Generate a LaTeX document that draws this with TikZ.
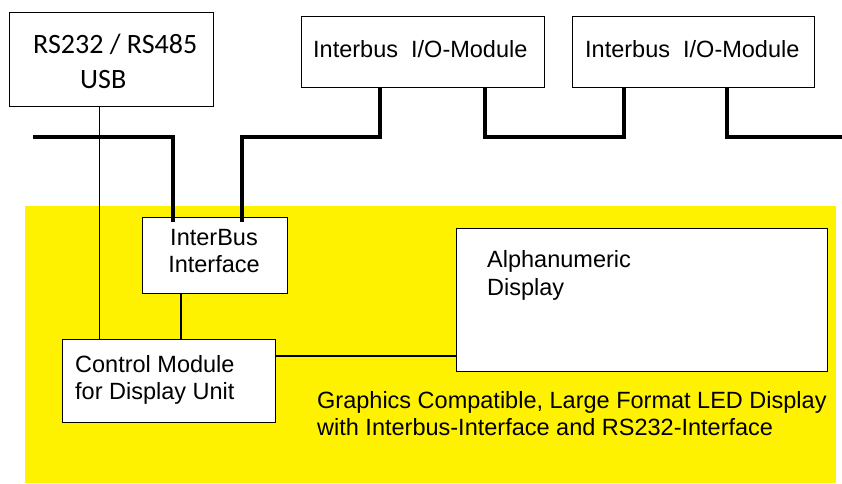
\documentclass[tikz,border=0pt]{standalone}
\usepackage{fontspec}
\setmainfont{Liberation Sans}
\newfontfamily\calfont{Carlito}
\begin{document}
\begin{tikzpicture}[x=1pt,y=-1pt,
  box/.style={draw=black, line width=1.2pt, fill=white, inner sep=0pt, anchor=north west},
  txt/.style={inner sep=0pt, font=\fontsize{23.5}{28}\selectfont, anchor=base west},
  ctxt/.style={txt, anchor=base},
  caltxt/.style={inner sep=0pt, font=\calfont\fontsize{28}{34}\selectfont, anchor=base west},
  wire/.style={line width=1.2pt},
  bus/.style={line width=4pt, line join=miter}]
\useasboundingbox (0,0) rectangle (842,483);
\fill[yellow] (25,206) rectangle (836,483);

% boxes
\node[box, minimum width=204pt, minimum height=94pt] (rs) at (9,12) {};
\node[box, minimum width=243pt, minimum height=71pt] (mod1) at (301,16) {};
\node[box, minimum width=242pt, minimum height=71pt] (mod2) at (572,16) {};
\node[box, minimum width=145pt, minimum height=76pt] (iface) at (142,217) {};
\node[box, minimum width=213pt, minimum height=83pt] (ctrl) at (62,339) {};
\node[box, minimum width=371pt, minimum height=143pt] (disp) at (456,228) {};

% texts
\node[caltxt] (rs1) at (33,53) {RS232 / RS485};
\node[caltxt] (rs2) at (80,88) {USB};
\node[txt] (m1) at (313,57) {Interbus\ \ I/O-Module};
\node[txt] (m2) at (585,57) {Interbus\ \ I/O-Module};
\node[ctxt] (if1) at (214,245) {InterBus};
\node[ctxt] (if2) at (214,272) {Interface};
\node[txt] (c1) at (75,372) {Control Module};
\node[txt] (c2) at (75,399) {for Display Unit};
\node[txt] (d1) at (487,267) {Alphanumeric};
\node[txt] (d2) at (487,295) {Display};
\node[txt] (g1) at (317,408) {Graphics Compatible, Large Format LED Display};
\node[txt] (g2) at (317,435) {with Interbus-Interface and RS232-Interface};

% thin connectors
\coordinate (rsout) at (99.5,106);
\draw[wire] (rsout) -- (rsout |- ctrl.north);
\coordinate (ifout) at (181,293);
\draw[wire] (ifout) -- (ifout |- ctrl.north);
\coordinate (ctout) at (275,356);
\draw[wire] (ctout) -- (ctout -| disp.west);

% bus
\coordinate (busL) at (33,137);
\coordinate (ifA) at (173,222);
\coordinate (ifB) at (242,222);
\coordinate (m1A) at (380,87);
\coordinate (m1B) at (485,87);
\coordinate (m2A) at (624,87);
\coordinate (m2B) at (727,87);
\coordinate (busR) at (842,137);
\draw[bus] (busL) -| (ifA);
\draw[bus] (ifB) |- (m1A |- busL) -- (m1A);
\draw[bus] (m1B) |- (m2A |- busL) -- (m2A);
\draw[bus] (m2B) |- (busR);
\end{tikzpicture}
\end{document}
